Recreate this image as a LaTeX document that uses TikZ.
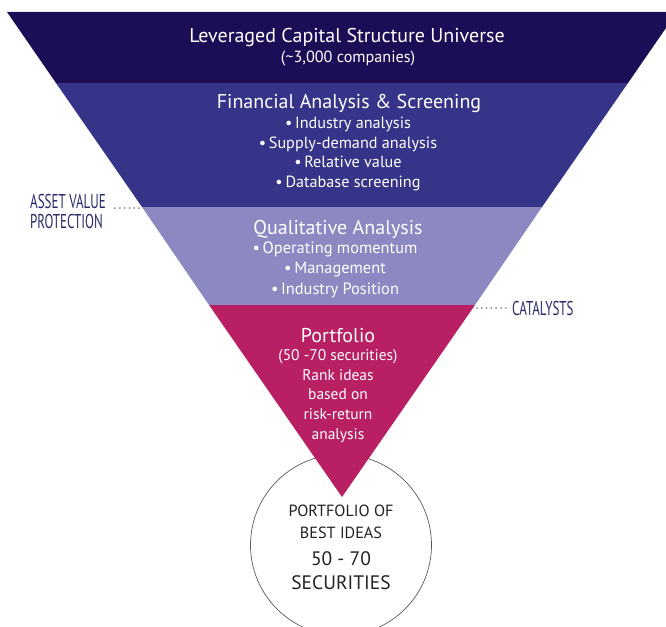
\documentclass[tikz,border=0pt]{standalone}
\usepackage{fontspec}
\setmainfont{PT Sans}
\definecolor{bandA}{HTML}{1B0E56}
\definecolor{bandB}{HTML}{363488}
\definecolor{bandC}{HTML}{8B88C2}
\definecolor{bandD}{HTML}{B91F63}
\definecolor{navy}{HTML}{2A2A6A}
\definecolor{dotgray}{HTML}{8A8A8A}
\definecolor{ink}{HTML}{222222}
\tikzset{
  head/.style={text=white, font=\fontsize{20}{22}\selectfont, inner sep=0pt},
  body/.style={text=white, font=\fontsize{16.2}{19.5}\selectfont, align=center, inner sep=0pt},
  side/.style={text=navy, font=\fontsize{20}{20.5}\selectfont\addfontfeature{FakeStretch=0.65}, align=left, inner sep=0pt},
  circtext/.style={text=ink, align=center, inner sep=0pt},
  dots/.style={draw=dotgray, line width=2pt, dash pattern=on 0pt off 4.8pt, line cap=round},
}
\begin{document}
\begin{tikzpicture}[x=1pt,y=-1pt]
\useasboundingbox (0,0) rectangle (666,626);
\clip (0,0) rectangle (666,626);
% funnel geometry
\coordinate (T1) at (7,12);   \coordinate (T2) at (677,12);
\coordinate (L1) at (56,83);  \coordinate (R1) at (628,83);
\coordinate (L2) at (142,207);\coordinate (R2) at (542,207);
\coordinate (L3) at (209,305);\coordinate (R3) at (475,305);
\coordinate (apex) at (342,497);
% circle behind
\node[circle, draw=black!65, line width=0.7pt, fill=white, minimum size=181pt, inner sep=0pt] (circ) at (341,545) {};
% bands
\fill[bandA] (T1) -- (T2) -- (R1) -- (L1) -- cycle;
\fill[bandB] (L1) -- (R1) -- (R2) -- (L2) -- cycle;
\fill[bandC] (L2) -- (R2) -- (R3) -- (L3) -- cycle;
\fill[bandD] (L3) -- (R3) -- (apex) -- cycle;
% band 1
\node[head] (h1) at (347,38) {Leveraged Capital Structure Universe};
\node[body] (s1) at (348,59) {(\textasciitilde 3,000 companies)};
% band 2
\node[head] (h2) at (349,103) {Financial Analysis \& Screening};
\node[body] (b2) at (348,154) {\textbullet\,Industry analysis\\ \textbullet\,Supply-demand analysis\\ \textbullet\,Relative value\\ \textbullet\,Database screening};
% band 3
\node[head] (h3) at (338,229) {Qualitative Analysis};
\node[body, font=\fontsize{16.4}{20.5}\selectfont] (b3) at (335,269.5) {\textbullet\,Operating momentum\\ \textbullet\,Management\\ \textbullet\,Industry Position};
% band 4
\node[head] (h4) at (338,336) {Portfolio};
\node[body, font=\fontsize{15.5}{19.7}\selectfont] (b4) at (338,396) {(50 -70 securities)\\ Rank ideas\\ based on\\ risk-return\\ analysis};
% circle text
\node[circtext, font=\fontsize{16.2}{22}\selectfont] (c1) at (341,522) {PORTFOLIO OF\\ BEST IDEAS};
\node[circtext, font=\fontsize{19.5}{24}\selectfont] (c2) at (341,571) {50 - 70\\ SECURITIES};
% side labels
\node[side, anchor=west] (asset) at (30,211.5) {ASSET VALUE\\ PROTECTION};
\node[side, anchor=west] (cat) at (512,308) {CATALYSTS};
\coordinate (assetend) at (115,208);
\coordinate (assettip) at (147,208);
\coordinate (catstart) at (477,308);
\coordinate (catend) at (509,308);
\draw[dots] (assetend) -- (assettip);
\draw[dots] (catstart) -- (catend);
\end{tikzpicture}
\end{document}
